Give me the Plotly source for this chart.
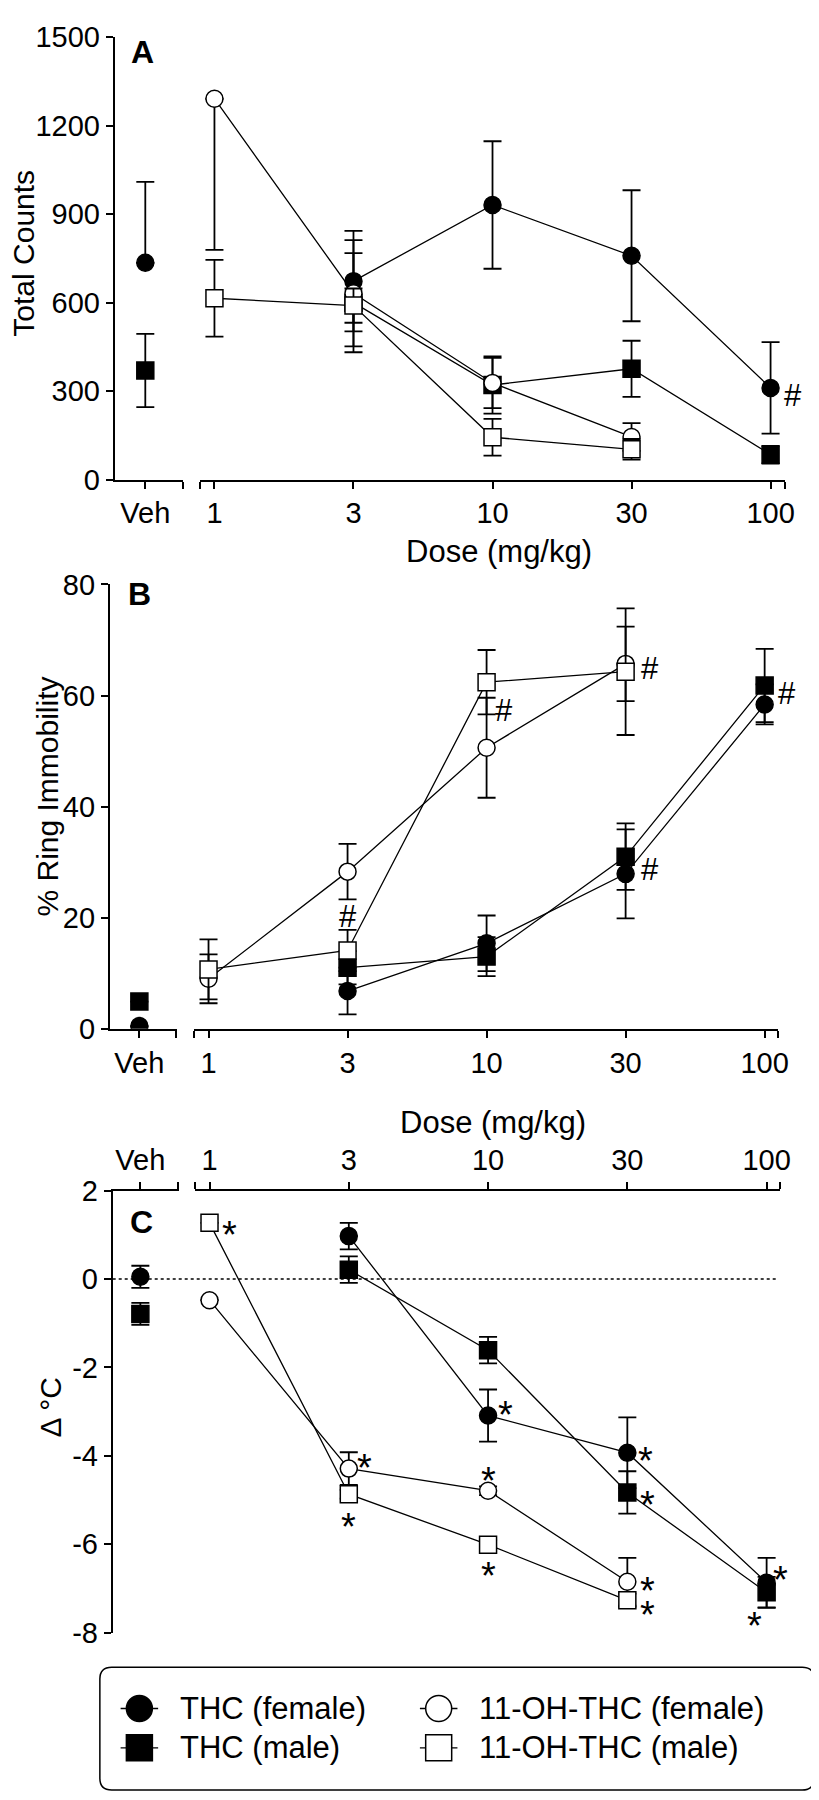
import plotly.graph_objects as go

FONT = "Liberation Sans, Arial, sans-serif"
W, H = 819, 1800

doses = ["1", "3", "10", "30", "100"]
veh_label = "Veh"

# ---- panel A: total counts ----
a_thc_f = [None, 673, 931, 759, 311]
a_thc_f_err = [None, 170, 216, 222, 155]
a_thc_m = [None, 600, 321, 376, 85]
a_thc_m_err = [None, 168, 97, 95, 30]
a_oh_f = [1291, 632, 328, 145, None]
a_oh_f_up = [0, 180, 85, 47, None]
a_oh_f_dn = [512, 180, 85, 47, None]
a_oh_m = [615, 590, 144, 103, None]
a_oh_m_err = [130, 58, 62, 35, None]
a_veh_thc_f = 735
a_veh_thc_f_up = 274
a_veh_thc_m = 370
a_veh_thc_m_err = 124
a_ticks = [0, 300, 600, 900, 1200, 1500]

# ---- panel B: % ring immobility ----
b_thc_f = [None, 6.8, 15.4, 27.9, 58.4]
b_thc_f_err = [None, 4.2, 5.0, 8.0, 3.6]
b_thc_m = [None, 11.0, 13.0, 31.0, 61.8]
b_thc_m_err = [None, 3.0, 3.5, 6.0, 6.6]
b_oh_f = [9.0, 28.3, 50.6, 65.7, None]
b_oh_f_err = [4.4, 5.0, 9.0, 6.7, None]
b_oh_m = [10.7, 14.1, 62.4, 64.3, None]
b_oh_m_err = [5.4, 3.7, 5.8, 11.4, None]
b_veh_thc_f = 0.5
b_veh_thc_m = 4.9
b_ticks = [0, 20, 40, 60, 80]

# ---- panel C: change in body temperature ----
c_thc_f = [None, 0.97, -3.09, -3.93, -6.87]
c_thc_f_err = [None, 0.3, 0.59, 0.8, 0.56]
c_thc_m = [None, 0.21, -1.61, -4.83, -7.09]
c_thc_m_err = [None, 0.3, 0.3, 0.48, 0.35]
c_oh_f = [-0.48, -4.29, -4.79, -6.85, None]
c_oh_f_err = [0, 0.37, 0.1, 0.54, None]
c_oh_m = [1.27, -4.87, -6.01, -7.27, None]
c_oh_m_err = [0, 0.1, 0.1, 0.15, None]
c_veh_thc_f = 0.05
c_veh_thc_f_err = 0.25
c_veh_thc_m = -0.79
c_veh_thc_m_err = 0.25
c_ticks = [2, 0, -2, -4, -6, -8]
c_ticktext = ["2", "0", "-2", "-4", "-6", "-8"]

# significance marks: (dose index, value, text, x offset px)
a_marks = [(4, 287, "#", 22)]
b_marks = [(1, 20.2, "#", 0), (2, 57.3, "#", 17), (3, 64.8, "#", 24),
           (3, 28.6, "#", 24), (4, 60.4, "#", 22)]
c_marks = [(0, 1.17, "*", 20), (1, -4.1, "*", 16), (1, -5.42, "*", 0),
           (2, -2.9, "*", 17), (2, -4.39, "*", 0), (2, -6.53, "*", 0),
           (3, -3.94, "*", 18), (3, -4.94, "*", 20), (3, -6.87, "*", 20),
           (3, -7.42, "*", 20), (4, -6.64, "*", 14), (4, -7.67, "*", -12)]

legend_labels = ["THC (female)", "THC (male)", "11-OH-THC (female)", "11-OH-THC (male)"]

STYLE = {
    "thc_f": ("circle", "black"),
    "thc_m": ("square", "black"),
    "oh_f": ("circle", "white"),
    "oh_m": ("square", "white"),
}

xi = list(range(len(doses)))


def xdom(a, b):
    return [a / W, b / W]


def ydom(top, bottom):
    return [1 - bottom / H, 1 - top / H]


fig = go.Figure()


def add_series(xa, ya, xs, ys, key, up, dn=None):
    sym, fill = STYLE[key]
    fig.add_trace(go.Scatter(
        x=xs, y=ys, xaxis=xa, yaxis=ya, mode="lines+markers",
        line=dict(color="black", width=1.3),
        marker=dict(symbol=sym, size=17, color=fill, line=dict(color="black", width=1.5)),
        error_y=dict(type="data", array=up, arrayminus=dn if dn is not None else up,
                     symmetric=False, color="black", thickness=1.8, width=9),
        showlegend=False, cliponaxis=True,
    ))


# panel A
add_series("x", "y", [0], [a_veh_thc_f], "thc_f", [a_veh_thc_f_up], [0])
add_series("x", "y", [0], [a_veh_thc_m], "thc_m", [a_veh_thc_m_err])
add_series("x2", "y", xi, a_thc_f, "thc_f", a_thc_f_err)
add_series("x2", "y", xi, a_thc_m, "thc_m", a_thc_m_err)
add_series("x2", "y", xi, a_oh_f, "oh_f", a_oh_f_up, a_oh_f_dn)
add_series("x2", "y", xi, a_oh_m, "oh_m", a_oh_m_err)

# panel B
add_series("x3", "y2", [0], [b_veh_thc_f], "thc_f", [0])
add_series("x3", "y2", [0], [b_veh_thc_m], "thc_m", [0])
add_series("x4", "y2", xi, b_thc_f, "thc_f", b_thc_f_err)
add_series("x4", "y2", xi, b_thc_m, "thc_m", b_thc_m_err)
add_series("x4", "y2", xi, b_oh_f, "oh_f", b_oh_f_err)
add_series("x4", "y2", xi, b_oh_m, "oh_m", b_oh_m_err)

# panel C
add_series("x5", "y3", [0], [c_veh_thc_f], "thc_f", [c_veh_thc_f_err])
add_series("x5", "y3", [0], [c_veh_thc_m], "thc_m", [c_veh_thc_m_err])
add_series("x6", "y3", xi, c_thc_f, "thc_f", c_thc_f_err)
add_series("x6", "y3", xi, c_thc_m, "thc_m", c_thc_m_err)
add_series("x6", "y3", xi, c_oh_f, "oh_f", c_oh_f_err)
add_series("x6", "y3", xi, c_oh_m, "oh_m", c_oh_m_err)

tickfont = dict(family=FONT, size=29, color="black")
axis_common = dict(showline=True, linecolor="black", linewidth=1.8, ticks="outside",
                   ticklen=7, tickwidth=1.8, tickcolor="black", showgrid=False,
                   zeroline=False, tickfont=tickfont)


def veh_axis(left, veh, right, anchor, side="bottom"):
    span = right - left
    r = [-(veh - left) / span, (right - veh) / span]
    return dict(axis_common, domain=xdom(left, right), range=r, anchor=anchor, side=side,
                tickmode="array", tickvals=[0, r[1] - 0.01], ticktext=[veh_label, ""])


def dose_axis(left, first, last, right, anchor, side="bottom"):
    step = (last - first) / (len(doses) - 1)
    r = [-(first - left) / step, len(doses) - 1 + (right - last) / step]
    return dict(axis_common, domain=xdom(left, right), range=r, anchor=anchor, side=side,
                tickmode="array", tickvals=[r[0] + 0.005] + xi + [r[1] - 0.005],
                ticktext=[""] + doses + [""])


fig.update_layout(
    width=W, height=H, margin=dict(l=0, r=0, t=0, b=0),
    paper_bgcolor="white", plot_bgcolor="rgba(0,0,0,0)",
    font=dict(family=FONT, color="black"),
    xaxis=veh_axis(108, 139, 177.5, "y"),
    xaxis2=dose_axis(194, 209, 772, 787, "y"),
    yaxis=dict(axis_common, domain=ydom(13.3, 464), range=[0, 1500], anchor="x",
               tickmode="array", tickvals=a_ticks),
    xaxis3=veh_axis(103, 133, 171, "y2"),
    xaxis4=dose_axis(188, 203, 766, 780, "y2"),
    yaxis2=dict(axis_common, domain=ydom(570.6, 1023), range=[0, 80], anchor="x3",
                tickmode="array", tickvals=b_ticks),
    xaxis5=veh_axis(106, 134, 173, "y3", side="top"),
    xaxis6=dose_axis(189, 204, 768, 782, "y3", side="top"),
    yaxis3=dict(axis_common, domain=ydom(1187.7, 1637.7), range=[-8, 2], anchor="x5",
                tickmode="array", tickvals=c_ticks, ticktext=c_ticktext),
    xaxis7=dict(domain=[0, 1], range=[0, W], visible=False, anchor="y7"),
    yaxis7=dict(domain=[0, 1], range=[H, 0], visible=False, anchor="x7"),
)

# dotted zero line in panel C
fig.add_shape(type="line", xref="paper", yref="y3", x0=106 / W, x1=780 / W, y0=0, y1=0,
              line=dict(color="black", width=1.5, dash="dot"))

ann = []


def text(x, y, s, size, xanchor="center", angle=0, bold=False):
    ann.append(dict(x=x, y=y, xref="x7", yref="y7", text=f"<b>{s}</b>" if bold else s,
                    showarrow=False, xanchor=xanchor, yanchor="middle", textangle=angle,
                    font=dict(family=FONT, size=size, color="black")))


text(16, 233, "Total Counts", 30, angle=-90)
text(497, 537, "Dose (mg/kg)", 31)
text(39, 787, "% Ring Immobility", 30, angle=-90)
text(491, 1118, "Dose (mg/kg)", 31)
text(44, 1408, "Δ °C", 30, angle=-90)
text(136, 28, "A", 32, bold=True)
text(133, 580, "B", 32, bold=True)
text(135, 1220, "C", 32, bold=True)

for marks, xa, ya in [(a_marks, "x2", "y"), (b_marks, "x4", "y2"), (c_marks, "x6", "y3")]:
    for d, v, s, dx in marks:
        star = s == "*"
        ann.append(dict(x=d, y=v, xref=xa, yref=ya, text=s, showarrow=False,
                        xshift=dx, yshift=-8 if star else 0,
                        font=dict(family=FONT, size=38 if star else 31, color="black")))

# legend drawn by hand (rounded box, two columns)
fig.add_shape(type="path", xref="x7", yref="y7",
              path="M 105 1673 L 804 1673 Q 816 1673 816 1685 L 816 1786 Q 816 1798 804 1798 "
                   "L 105 1798 Q 93 1798 93 1786 L 93 1685 Q 93 1673 105 1673 Z",
              line=dict(color="black", width=1.5))
leg_x = [133, 133, 436, 436]
leg_y = [1715, 1755, 1715, 1755]
for key, lx, ly, lab in zip(["thc_f", "thc_m", "oh_f", "oh_m"], leg_x, leg_y, legend_labels):
    sym, fill = STYLE[key]
    fig.add_trace(go.Scatter(x=[lx - 19, lx + 19], y=[ly, ly], xaxis="x7", yaxis="y7",
                             mode="lines", line=dict(color="black", width=1.3),
                             showlegend=False, hoverinfo="skip"))
    fig.add_trace(go.Scatter(x=[lx], y=[ly], xaxis="x7", yaxis="y7", mode="markers",
                             marker=dict(symbol=sym, size=26, color=fill,
                                         line=dict(color="black", width=1.5)),
                             showlegend=False, hoverinfo="skip"))
    text(lx + 39, ly, lab, 31, xanchor="left")

fig.update_layout(annotations=ann)
fig.write_html("out.html")
